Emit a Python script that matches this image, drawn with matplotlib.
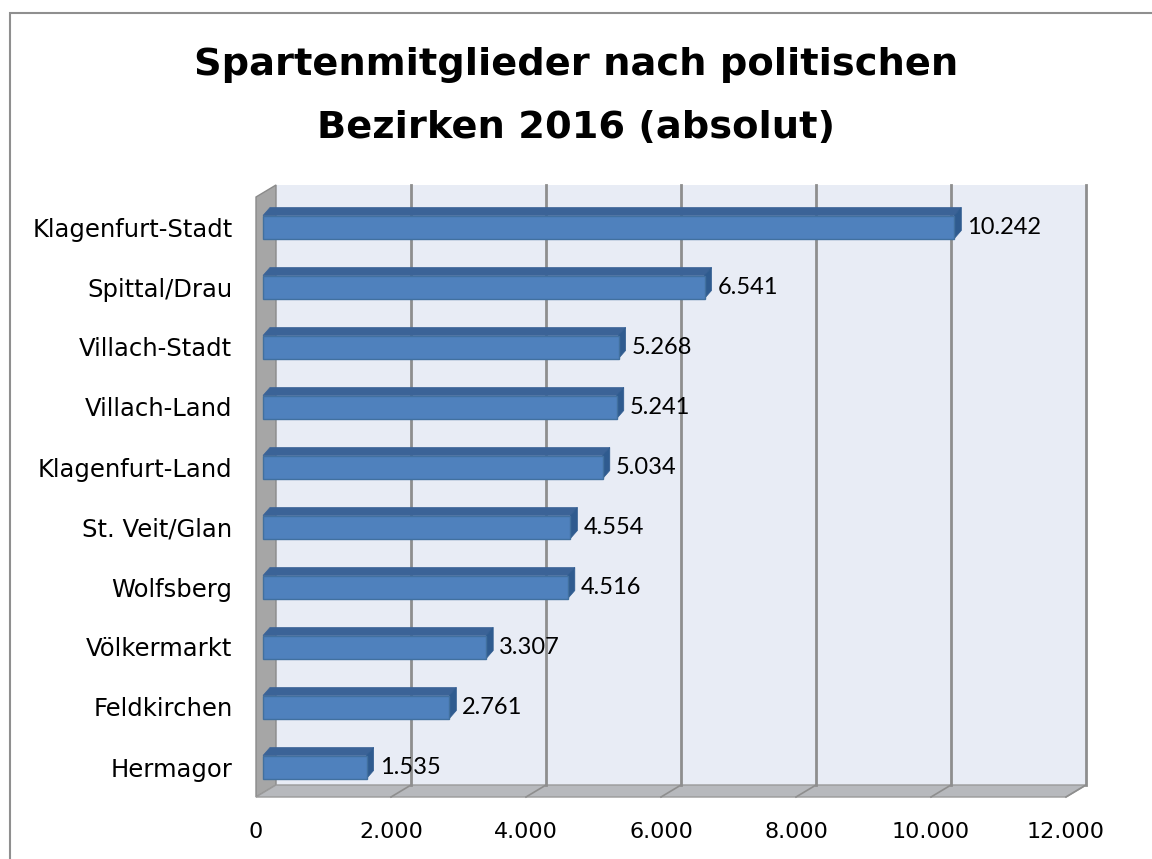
import numpy as np
import matplotlib
matplotlib.use("Agg")
import matplotlib.pyplot as plt
from matplotlib.patches import Polygon, Rectangle
from matplotlib.transforms import offset_copy, IdentityTransform
from matplotlib.ticker import FuncFormatter, MultipleLocator

# data (top to bottom as shown)
districts = ["Klagenfurt-Stadt", "Spittal/Drau", "Villach-Stadt", "Villach-Land",
             "Klagenfurt-Land", "St. Veit/Glan", "Wolfsberg", "Völkermarkt",
             "Feldkirchen", "Hermagor"]
members = [10242, 6541, 5268, 5241, 5034, 4554, 4516, 3307, 2761, 1535]
title_lines = ["Spartenmitglieder nach politischen", "Bezirken 2016 (absolut)"]

W, H = 1152, 859
fig = plt.figure(figsize=(W / 100, H / 100), dpi=100)
fig.patch.set_facecolor("white")

# outer chart frame
fig.add_artist(Rectangle((10 / W, -0.1), 2.0, 1 - 13 / H + 0.1, transform=fig.transFigure,
                         fill=False, ec="#8f8f8f", lw=1.5))

for line, yc in zip(title_lines, [65, 128]):
    fig.text(0.5, 1 - yc / H, line, ha="center", va="center", fontsize=27.6,
             fontweight="bold", family="DejaVu Sans")

# front plane of the 3d box
ax = fig.add_axes([256 / W, 1 - 797 / H, 810 / W, 600 / H])
ax.set_xlim(0, 12000)
ax.set_ylim(-0.5, len(districts) - 0.5)
ax.patch.set_visible(False)
for s in ax.spines.values():
    s.set_visible(False)

ypos = np.arange(len(districts))[::-1]
DX, DY = 20, 12      # depth of the box in pixels
BX = 7               # bar front offset
BDX, BDY = 7, 8      # bar depth

ident = IdentityTransform()


def disp(x, y, dx=0, dy=0):
    p = ax.transData.transform((x, y))
    return (p[0] + dx, p[1] + dy)


def poly(pts, **kw):
    p = Polygon(pts, closed=True, transform=ident, clip_on=False, **kw)
    ax.add_patch(p)


def seg(a, b, **kw):
    ax.add_line(plt.Line2D([a[0], b[0]], [a[1], b[1]], transform=ident,
                           clip_on=False, **kw))


xmax = 12000
y0, y1 = -0.5, len(districts) - 0.5

# back wall
poly([disp(0, y0, DX, DY), disp(xmax, y0, DX, DY), disp(xmax, y1, DX, DY), disp(0, y1, DX, DY)],
     fc="#e8ecf5", ec="none", zorder=0)
# left wall
poly([disp(0, y0), disp(0, y0, DX, DY), disp(0, y1, DX, DY), disp(0, y1)],
     fc="#a6a6a6", ec="#8a8a8a", lw=1, zorder=1)
# floor
poly([disp(0, y0), disp(xmax, y0), disp(xmax, y0, DX, DY), disp(0, y0, DX, DY)],
     fc="#b7b9bd", ec="#9a9a9a", lw=1, zorder=1)

# gridlines on back wall and floor
for g in range(2000, 12001, 2000):
    seg(disp(g, y0, DX, DY), disp(g, y1, DX, DY), color="#8e8e8e", lw=2, zorder=2)
    seg(disp(g, y0), disp(g, y0, DX, DY), color="#8e8e8e", lw=1.2, zorder=2)

# bars
bh = 23 / 60
front_t = offset_copy(ax.transData, fig=fig, x=BX, y=0, units="dots")
ax.barh(ypos, members, height=bh, color="#4f81bd", edgecolor="#41709f", lw=1,
        transform=front_t, zorder=5, clip_on=False)
lab_t = offset_copy(ax.transData, fig=fig, x=BX + 13, y=0, units="dots")
for yp, v in zip(ypos, members):
    yt, yb = yp + bh / 2, yp - bh / 2
    poly([disp(0, yt, BX), disp(v, yt, BX), disp(v, yt, BX + BDX, BDY), disp(0, yt, BX + BDX, BDY)],
         fc="#3b6397", ec="#3b6397", lw=0.5, zorder=4)
    poly([disp(v, yb, BX), disp(v, yt, BX), disp(v, yt, BX + BDX, BDY), disp(v, yb, BX + BDX, BDY)],
         fc="#2f5b8f", ec="#2f5b8f", lw=0.5, zorder=4)
    ax.text(v, yp, f"{v:,}".replace(",", "."), transform=lab_t, ha="left", va="center",
            fontsize=17, family="Lato", color="black", zorder=6)

ax.xaxis.set_major_locator(MultipleLocator(2000))
ax.xaxis.set_major_formatter(FuncFormatter(lambda v, p: f"{int(v):,}".replace(",", ".")))
ax.set_yticks(ypos)
ax.set_yticklabels(districts)
ax.tick_params(axis="x", length=0, pad=18, labelsize=16)
ax.tick_params(axis="y", length=0, pad=17, labelsize=17.5)
for t in ax.get_xticklabels() + ax.get_yticklabels():
    t.set_family("DejaVu Sans")

fig.savefig("out.png", dpi=100)
